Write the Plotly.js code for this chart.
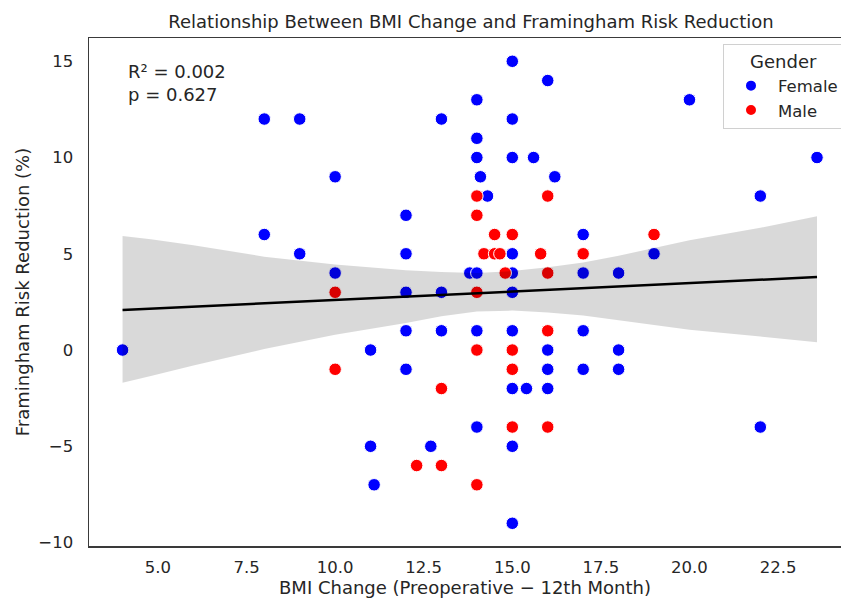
<!DOCTYPE html>
<html>
<head>
<meta charset="utf-8">
<script src="https://cdn.plot.ly/plotly-3.0.1.min.js"></script>
<style>
  html, body { margin: 0; padding: 0; background: #ffffff; }
  #chart { width: 841px; height: 598px; }
</style>
</head>
<body>
<div id="chart"></div>
<script>
// BMI change (preoperative minus 12th month) vs. Framingham risk reduction, by gender
const femaleBmi = [4, 8, 9, 8, 9, 10, 10, 11, 11, 11.1, 12, 12, 12, 12, 12, 12.7, 13, 13, 13,
  13.8, 14, 14, 14, 14, 14.1, 14.3, 14, 14, 15, 15, 15, 15.6, 16, 16.2, 15, 15, 15, 15, 15,
  15.4, 16, 15, 15, 16, 16, 17, 17, 17, 17, 18, 18, 18, 19, 20, 22, 22, 23.6];
const femaleRisk = [0, 12, 12, 6, 5, 9, 4, 0, -5, -7, 7, 5, 3, 1, -1, -5, 12, 3, 1,
  4, 4, 13, 11, 10, 9, 8, 1, -4, 15, 12, 10, 10, 14, 9, 5, 4, 3, 1, -2,
  -2, -2, -5, -9, 0, -1, 6, 4, 1, -1, 4, 0, -1, 5, 13, 8, -4, 10];

const maleBmi = [10, 10, 12.3, 13, 13, 14, 14, 14, 14, 14, 14.2, 14.5, 14.5, 14.65, 14.8,
  15, 15, 15, 15, 15.8, 16, 16, 16, 16, 17, 19];
const maleRisk = [3, -1, -6, -6, -2, 8, 7, 3, 0, -7, 5, 6, 5, 5, 4,
  6, 0, -1, -4, 5, 8, 4, 1, -4, 5, 6];

// Fitted regression line and its 95% confidence band
const fitX = [4, 23.6];
const fitY = [2.08, 3.79];
const bandX = [4, 4.8, 6, 8, 10, 12, 13, 14, 15, 16, 17, 18, 20, 22, 23.6];
const bandUpper = [5.92, 5.75, 5.45, 4.85, 4.45, 4.15, 4.05, 4.0, 4.1, 4.3, 4.55, 4.9, 5.7, 6.35, 6.95];
const bandLower = [-1.7, -1.35, -0.8, 0.05, 0.8, 1.4, 1.75, 2.0, 2.05, 1.95, 1.8, 1.55, 1.05, 0.7, 0.4];

const xTicks = [5, 7.5, 10, 12.5, 15, 17.5, 20, 22.5];
const yTicks = [-10, -5, 0, 5, 10, 15];

const statsText = ['R² = 0.002', 'p = 0.627'];

const font = 'DejaVu Sans, Verdana, sans-serif';
const ink = '#262626';
const labelSize = 18;
const tickSize = 16.5;

const markerStyle = (color) => ({
  color: color, size: 12.5, line: { color: '#ffffff', width: 1 }
});

const traces = [
  {
    type: 'scatter', mode: 'markers', name: 'Female',
    x: femaleBmi, y: femaleRisk, marker: markerStyle('#0000ff'),
    hoverinfo: 'x+y'
  },
  {
    type: 'scatter', mode: 'markers', name: 'Male',
    x: maleBmi, y: maleRisk, marker: markerStyle('#ff0000'),
    hoverinfo: 'x+y'
  },
  {
    // confidence band polygon: upper edge left→right, lower edge right→left
    type: 'scatter', mode: 'lines', showlegend: false, hoverinfo: 'skip',
    x: bandX.concat(bandX.slice().reverse()),
    y: bandUpper.concat(bandLower.slice().reverse()),
    fill: 'toself', fillcolor: 'rgba(0,0,0,0.15)',
    line: { width: 0, color: 'rgba(0,0,0,0)' }
  },
  {
    type: 'scatter', mode: 'lines', showlegend: false, hoverinfo: 'skip',
    x: fitX, y: fitY, line: { color: '#000000', width: 2.5 }
  }
];

const layout = {
  width: 841, height: 598,
  margin: { l: 89, r: 0, t: 38, b: 52, autoexpand: false },
  paper_bgcolor: '#ffffff', plot_bgcolor: '#ffffff',
  font: { family: font, size: tickSize, color: ink },
  title: {
    text: 'Relationship Between BMI Change and Framingham Risk Reduction',
    font: { family: font, size: labelSize, color: ink },
    x: 471 / 841, xref: 'container', xanchor: 'center',
    y: 1 - 22 / 598, yref: 'container', yanchor: 'middle'
  },
  xaxis: {
    range: [3.053, 24.277],
    tickvals: xTicks, ticktext: xTicks.map(v => v.toFixed(1)),
    showgrid: false, zeroline: false,
    showline: true, mirror: true, linecolor: '#3a3a3a', linewidth: 1.5,
    ticks: '', ticklabelstandoff: 6,
    tickfont: { family: font, size: tickSize, color: ink },
    title: {
      text: 'BMI Change (Preoperative − 12th Month)',
      font: { family: font, size: labelSize, color: ink },
      standoff: 4
    }
  },
  yaxis: {
    range: [-10.18, 16.21],
    tickvals: yTicks,
    showgrid: false, zeroline: false,
    showline: true, mirror: false, linecolor: '#3a3a3a', linewidth: 1.5,
    ticks: '', ticklabelstandoff: 11,
    tickfont: { family: font, size: tickSize, color: ink },
    title: {
      text: 'Framingham Risk Reduction (%)',
      font: { family: font, size: labelSize, color: ink },
      standoff: 4
    }
  },
  legend: {
    x: (723 - 89) / 752, xanchor: 'left',
    y: (546 - 44) / 508, yanchor: 'top',
    bgcolor: 'rgba(255,255,255,0.8)',
    bordercolor: '#d0d0d0', borderwidth: 1,
    font: { family: font, size: tickSize, color: ink },
    title: { text: 'Gender', side: 'top center', font: { family: font, size: labelSize, color: ink } },
    itemsizing: 'constant', itemwidth: 44
  },
  annotations: [{
    xref: 'paper', yref: 'paper',
    x: (126 - 89) / 752, xanchor: 'left',
    y: (546 - 59) / 508, yanchor: 'top',
    align: 'left', showarrow: false,
    text: statsText.join('<br>'),
    font: { family: font, size: labelSize, color: ink }
  }],
  showlegend: true
};

Plotly.newPlot('chart', traces, layout, { displayModeBar: false, staticPlot: true });
</script>
</body>
</html>
